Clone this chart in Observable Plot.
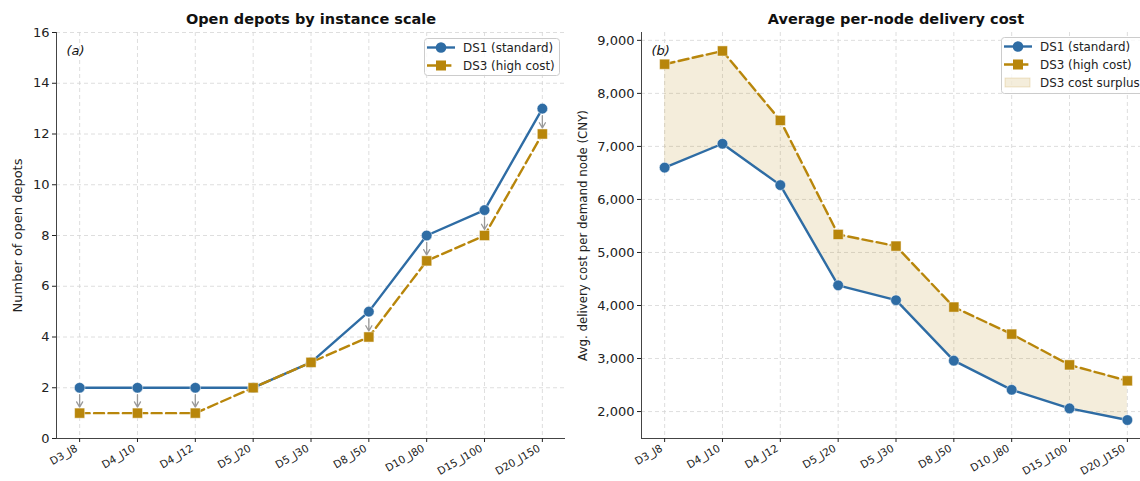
<!DOCTYPE html>
<html><head><meta charset="utf-8">
<script src="https://cdn.jsdelivr.net/npm/d3@7"></script>
<script src="https://cdn.jsdelivr.net/npm/@observablehq/plot@0.6"></script>
<style>
html,body{margin:0;padding:0;background:#fff;overflow:hidden;}
#wrap{position:relative;width:1140px;height:481px;overflow:hidden;font-family:"DejaVu Sans",sans-serif;background:#fff;}
#wrap > *{position:absolute;top:0;}
</style></head><body><div id="wrap"></div>
<script>
const instances = ["D3_J8","D4_J10","D4_J12","D5_J20","D5_J30","D8_J50","D10_J80","D15_J100","D20_J150"];
const depotsDS1 = [2,2,2,2,3,5,8,9,13];
const depotsDS3 = [1,1,1,2,3,4,7,8,12];
const costDS1 = [6600,7050,6270,4380,4100,2960,2410,2060,1840];
const costDS3 = [8550,8800,7490,5340,5120,3970,3460,2880,2580];
const depotTicks = [0,2,4,6,8,10,12,14,16];
const costTicks = [2000,3000,4000,5000,6000,7000,8000,9000];
const seriesNames = ["DS1 (standard)","DS3 (high cost)","DS3 cost surplus"];

const BLUE = "#2e6ca4", GOLD = "#b8860b";
const DASH = "10,4.4";
const idx = instances.map((_, i) => i);
const depotRows = idx.map(i => ({i, ds1: depotsDS1[i], ds3: depotsDS3[i]}));
const costRows = idx.map(i => ({i, ds1: costDS1[i], ds3: costDS3[i]}));
const arrowRows = depotRows.filter(d => d.ds1 !== d.ds3);

const costMin = d3.min(costDS1), costMax = d3.max(costDS3);
const pad = (costMax - costMin) * 0.05;
const costDomain = [costMin - pad, costMax + pad];

const gridStyle = {stroke: "#d6d6d6", strokeOpacity: 1, strokeWidth: 0.8, strokeDasharray: "4,3"};
const style = {fontFamily: "DejaVu Sans, sans-serif", fontSize: "13px", color: "#222", background: "transparent", overflow: "visible"};

function commonMarks(yTicks, yDomain, yFmt, yLabel, yLabelOffset, title, tag) {
  return [
    Plot.gridX(idx, {...gridStyle}),
    Plot.gridY(yTicks, {...gridStyle}),
    Plot.ruleX([-0.4], {stroke: "#444", strokeWidth: 1}),
    Plot.ruleY([yDomain[0]], {stroke: "#444", strokeWidth: 1}),
    Plot.axisX(idx, {tickFormat: () => "", tickSize: 4, label: null}),
    Plot.axisX(idx, {tickFormat: i => instances[i], tickRotate: -30, fontSize: 10.5, tickSize: 0, tickPadding: 9, dx: -3, label: null}),
    Plot.axisY(yTicks, {tickFormat: yFmt, fontSize: 13, tickSize: 4, tickPadding: 3, label: yLabel, labelAnchor: "center", labelOffset: yLabelOffset, labelArrow: "none"}),
    Plot.text([title], {text: d => d, frameAnchor: "top", dy: -13, lineAnchor: "middle", fontWeight: "bold", fontSize: 14.5, fill: "#111"}),
    Plot.text([tag], {text: d => d, frameAnchor: "top-left", dx: 10, dy: 18, lineAnchor: "middle", textAnchor: "start", fontStyle: "italic", fontSize: 13, fill: "#111"})
  ];
}

function seriesMarks(rows) {
  return [
    Plot.line(rows, {x: "i", y: "ds1", stroke: BLUE, strokeWidth: 2.4}),
    Plot.line(rows, {x: "i", y: "ds3", stroke: GOLD, strokeWidth: 2.4, strokeDasharray: DASH}),
    Plot.dot(rows, {x: "i", y: "ds1", symbol: "circle", r: 5.3, fill: BLUE, stroke: "white", strokeWidth: 0.8, strokeOpacity: 0.6}),
    Plot.dot(rows, {x: "i", y: "ds3", symbol: "square", r: 5.7, fill: GOLD, stroke: "white", strokeWidth: 0.8, strokeOpacity: 0.6})
  ];
}

const left = Plot.plot({
  width: 570, height: 481,
  marginLeft: 56, marginRight: 5, marginTop: 32, marginBottom: 43,
  style,
  x: {domain: [-0.4, 8.4]},
  y: {domain: [0, 16]},
  marks: [
    ...commonMarks(depotTicks, [0,16], d => d, "Number of open depots", 44, "Open depots by instance scale", "(a)"),
    Plot.arrow(arrowRows, {x1: "i", y1: "ds1", x2: "i", y2: "ds3", insetStart: 7, insetEnd: 6, stroke: "#999", strokeWidth: 1.3, headLength: 7}),
    ...seriesMarks(depotRows)
  ]
});

const right = Plot.plot({
  width: 580, height: 481,
  marginLeft: 71, marginRight: 0, marginTop: 32, marginBottom: 43,
  style,
  x: {domain: [-0.4, 8.4]},
  y: {domain: costDomain},
  marks: [
    ...commonMarks(costTicks, costDomain, d3.format(","), "Avg. delivery cost per demand node (CNY)", 63, "Average per-node delivery cost", "(b)"),
    Plot.areaY(costRows, {x: "i", y1: "ds1", y2: "ds3", fill: GOLD, fillOpacity: 0.15}),
    ...seriesMarks(costRows)
  ]
});

const wrap = document.getElementById("wrap");
left.style.left = "0px";
right.style.left = "570px";
wrap.appendChild(left);
wrap.appendChild(right);

right.querySelectorAll('[aria-label="y-axis label"] text, g[aria-label="y-axis label"]').forEach(e => e.setAttribute("font-size", 11.8));

function legend(x, y, w, h, rows, row0) {
  const svg = d3.create("svg").attr("width", w).attr("height", h)
    .style("left", x + "px").style("top", y + "px").style("position", "absolute")
    .attr("font-family", "DejaVu Sans, sans-serif");
  svg.append("rect").attr("x", 0.5).attr("y", 0.5).attr("width", w - 1).attr("height", h - 1).attr("rx", 3)
    .attr("fill", "white").attr("fill-opacity", 0.8).attr("stroke", "#cccccc");
  rows.forEach((r, k) => {
    const cy = row0 + k * 18;
    if (r.kind === "patch") {
      svg.append("rect").attr("x", 4).attr("y", cy - 4.5).attr("width", 25).attr("height", 9)
        .attr("fill", GOLD).attr("fill-opacity", 0.15).attr("stroke", GOLD).attr("stroke-opacity", 0.2);
    } else {
      svg.append("line").attr("x1", 3).attr("x2", 31).attr("y1", cy).attr("y2", cy)
        .attr("stroke", r.color).attr("stroke-width", 2.4).attr("stroke-dasharray", r.dash || null);
      if (r.kind === "circle") svg.append("circle").attr("cx", 17).attr("cy", cy).attr("r", 5.3).attr("fill", r.color);
      else svg.append("rect").attr("x", 12).attr("y", cy - 5).attr("width", 10).attr("height", 10).attr("fill", r.color);
    }
    svg.append("text").attr("x", 39).attr("y", cy).attr("dy", "0.35em").attr("font-size", 11.9).attr("fill", "#222").text(r.label);
  });
  return svg.node();
}

wrap.appendChild(legend(424, 38, 136, 38, [
  {kind: "circle", color: BLUE, label: seriesNames[0]},
  {kind: "square", color: GOLD, dash: DASH, label: seriesNames[1]}
], 9.5));
wrap.appendChild(legend(1001, 37, 160, 57, [
  {kind: "circle", color: BLUE, label: seriesNames[0]},
  {kind: "square", color: GOLD, dash: DASH, label: seriesNames[1]},
  {kind: "patch", label: seriesNames[2]}
], 9.5));
</script></body></html>
